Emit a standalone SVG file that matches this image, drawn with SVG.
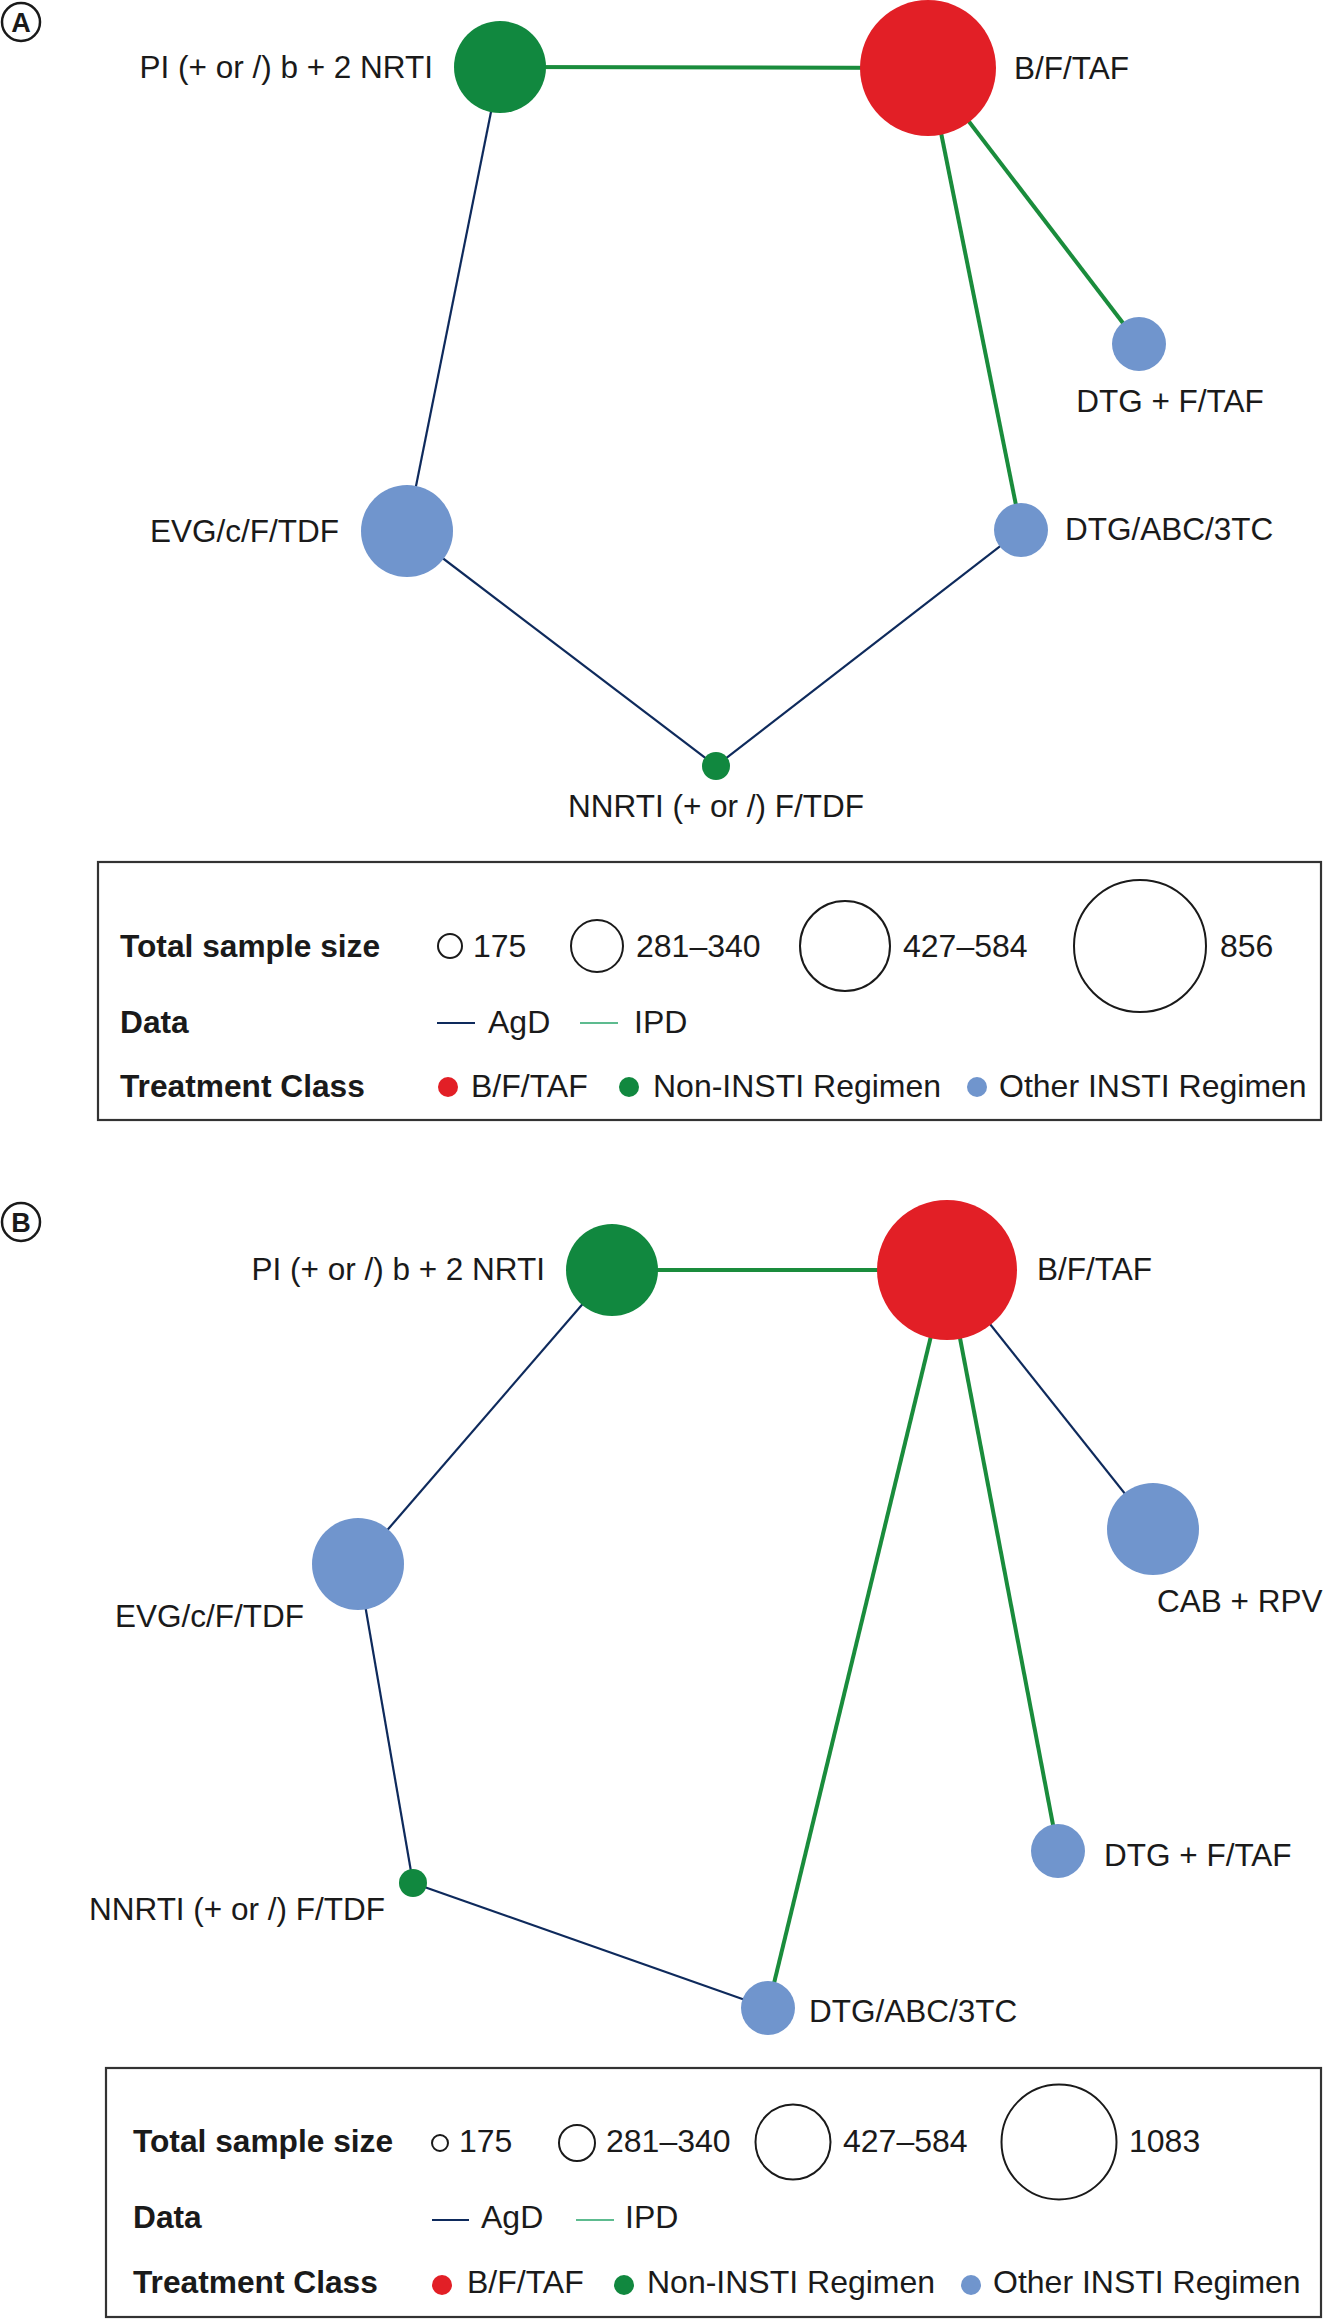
<svg xmlns="http://www.w3.org/2000/svg" width="1339" height="2320" viewBox="0 0 1339 2320">
<style>
text{font-family:"Liberation Sans",Arial,Helvetica,sans-serif;fill:#1a1a1a}
.lbl{font-size:31.5px}
.leg{font-size:32px}
.legb{font-size:31.7px;font-weight:bold}
.pl{font-size:27px;font-weight:bold;text-anchor:middle}
.pc{fill:#fff;stroke:#1a1a1a;stroke-width:2.5}
.ipd{stroke:#1A8C3C;stroke-width:4;fill:none}
.agd{stroke:#0E2A5C;stroke-width:2.2;fill:none}
.red{fill:#E21F26}
.grn{fill:#11883F}
.blu{fill:#7095CD}
.sz{fill:none;stroke:#1a1a1a;stroke-width:2}
.box{fill:#fff;stroke:#333;stroke-width:2.2}
</style>
<rect width="1339" height="2320" fill="#fff"/>

<!-- Panel A -->
<g id="panelA-label"><circle class="pc" cx="21" cy="22" r="19"/><text class="pl" x="21" y="32">A</text></g>
<g id="edgesA">
<line class="ipd" x1="500" y1="67" x2="928" y2="68"/>
<line class="agd" x1="500" y1="67" x2="407" y2="531"/>
<line class="agd" x1="407" y1="531" x2="716" y2="766"/>
<line class="agd" x1="716" y1="766" x2="1021" y2="530"/>
<line class="ipd" x1="928" y1="68" x2="1021" y2="530"/>
<line class="ipd" x1="928" y1="68" x2="1139" y2="344"/>
</g>
<g id="A-PI"><circle class="grn" cx="500" cy="67" r="46"/><text class="lbl" x="433" y="78" text-anchor="end">PI (+ or /) b + 2 NRTI</text></g>
<g id="A-BFTAF"><circle class="red" cx="928" cy="68" r="68"/><text class="lbl" x="1014" y="79">B/F/TAF</text></g>
<g id="A-DTGFTAF"><circle class="blu" cx="1139" cy="344" r="27"/><text class="lbl" x="1170" y="412" text-anchor="middle">DTG + F/TAF</text></g>
<g id="A-DTGABC"><circle class="blu" cx="1021" cy="530" r="27"/><text class="lbl" x="1065" y="540">DTG/ABC/3TC</text></g>
<g id="A-NNRTI"><circle class="grn" cx="716" cy="766" r="14"/><text class="lbl" x="716" y="817" text-anchor="middle">NNRTI (+ or /) F/TDF</text></g>
<g id="A-EVG"><circle class="blu" cx="407" cy="531" r="46"/><text class="lbl" x="339" y="542" text-anchor="end">EVG/c/F/TDF</text></g>

<g id="legendA">
<rect class="box" x="98" y="862" width="1223" height="258"/>
<text class="legb" x="120" y="957">Total sample size</text>
<circle class="sz" cx="450" cy="946" r="12"/><text class="leg" x="473" y="957">175</text>
<circle class="sz" cx="597" cy="946" r="26"/><text class="leg" x="636" y="957">281–340</text>
<circle class="sz" cx="845" cy="946" r="45"/><text class="leg" x="903" y="957">427–584</text>
<circle class="sz" cx="1140" cy="946" r="66"/><text class="leg" x="1220" y="957">856</text>
<text class="legb" x="120" y="1033">Data</text>
<line class="agd" x1="437" y1="1023" x2="475" y2="1023"/><text class="leg" x="488" y="1033">AgD</text>
<line x1="580" y1="1023" x2="618" y2="1023" stroke="#5DBB8F" stroke-width="2.2"/><text class="leg" x="634" y="1033">IPD</text>
<text class="legb" x="120" y="1097">Treatment Class</text>
<circle class="red" cx="448" cy="1087" r="10"/><text class="leg" x="471" y="1097">B/F/TAF</text>
<circle class="grn" cx="629" cy="1087" r="10"/><text class="leg" x="653" y="1097">Non-INSTI Regimen</text>
<circle class="blu" cx="977" cy="1087" r="10"/><text class="leg" x="999" y="1097">Other INSTI Regimen</text>
</g>

<!-- Panel B -->
<g id="panelB-label"><circle class="pc" cx="21" cy="1222" r="19"/><text class="pl" x="21" y="1232">B</text></g>
<g id="edgesB">
<line class="ipd" x1="612" y1="1270" x2="947" y2="1270"/>
<line class="agd" x1="612" y1="1270" x2="358" y2="1564"/>
<line class="agd" x1="358" y1="1564" x2="413" y2="1883"/>
<line class="agd" x1="413" y1="1883" x2="768" y2="2008"/>
<line class="ipd" x1="947" y1="1270" x2="768" y2="2008"/>
<line class="ipd" x1="947" y1="1270" x2="1058" y2="1851"/>
<line class="agd" x1="947" y1="1270" x2="1153" y2="1529"/>
</g>
<g id="B-PI"><circle class="grn" cx="612" cy="1270" r="46"/><text class="lbl" x="545" y="1280" text-anchor="end">PI (+ or /) b + 2 NRTI</text></g>
<g id="B-BFTAF"><circle class="red" cx="947" cy="1270" r="70"/><text class="lbl" x="1037" y="1280">B/F/TAF</text></g>
<g id="B-CAB"><circle class="blu" cx="1153" cy="1529" r="46"/><text class="lbl" x="1157" y="1612">CAB + RPV</text></g>
<g id="B-DTGFTAF"><circle class="blu" cx="1058" cy="1851" r="27"/><text class="lbl" x="1104" y="1866">DTG + F/TAF</text></g>
<g id="B-DTGABC"><circle class="blu" cx="768" cy="2008" r="27"/><text class="lbl" x="809" y="2022">DTG/ABC/3TC</text></g>
<g id="B-NNRTI"><circle class="grn" cx="413" cy="1883" r="14"/><text class="lbl" x="385" y="1920" text-anchor="end">NNRTI (+ or /) F/TDF</text></g>
<g id="B-EVG"><circle class="blu" cx="358" cy="1564" r="46"/><text class="lbl" x="304" y="1627" text-anchor="end">EVG/c/F/TDF</text></g>

<g id="legendB">
<rect class="box" x="106" y="2068" width="1215" height="249"/>
<text class="legb" x="133" y="2152">Total sample size</text>
<circle class="sz" cx="440" cy="2143" r="8"/><text class="leg" x="459" y="2152">175</text>
<circle class="sz" cx="577" cy="2143" r="18"/><text class="leg" x="606" y="2152">281–340</text>
<circle class="sz" cx="793" cy="2142" r="37.5"/><text class="leg" x="843" y="2152">427–584</text>
<circle class="sz" cx="1059" cy="2142" r="57.5"/><text class="leg" x="1129" y="2152">1083</text>
<text class="legb" x="133" y="2228">Data</text>
<line class="agd" x1="432" y1="2220" x2="469" y2="2220"/><text class="leg" x="481" y="2228">AgD</text>
<line x1="576" y1="2220" x2="614" y2="2220" stroke="#5DBB8F" stroke-width="2.2"/><text class="leg" x="625" y="2228">IPD</text>
<text class="legb" x="133" y="2293">Treatment Class</text>
<circle class="red" cx="442" cy="2285" r="10"/><text class="leg" x="467" y="2293">B/F/TAF</text>
<circle class="grn" cx="624" cy="2285" r="10"/><text class="leg" x="647" y="2293">Non-INSTI Regimen</text>
<circle class="blu" cx="971" cy="2285" r="10"/><text class="leg" x="993" y="2293">Other INSTI Regimen</text>
</g>
</svg>
